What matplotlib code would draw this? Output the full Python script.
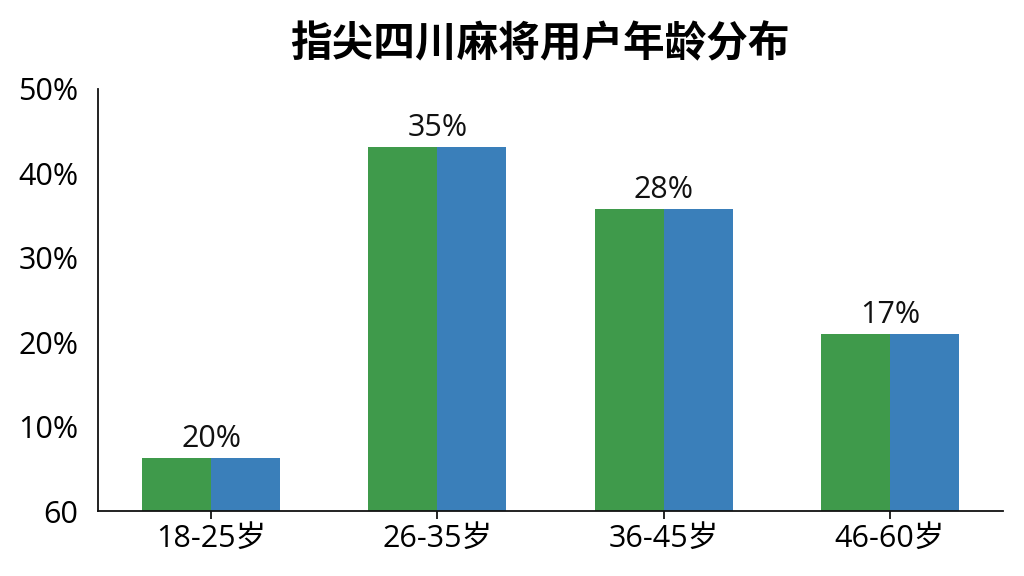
import numpy as np
import matplotlib
matplotlib.use('Agg')
import matplotlib.pyplot as plt

plt.rcParams['font.family'] = ['Open Sans', 'Noto Sans CJK SC', 'DejaVu Sans']

# 数据
categories = ['18-25岁', '26-35岁', '36-45岁', '46-60岁']
green_values = [6.3, 43.1, 35.8, 21.0]
blue_values = [6.3, 43.1, 35.8, 21.0]
bar_labels = ['20%', '35%', '28%', '17%']
y_ticks = [0, 10, 20, 30, 40, 50]
y_tick_labels = ['60', '10%', '20%', '30%', '40%', '50%']

fig = plt.figure(figsize=(10.24, 5.76), dpi=100)
ax = fig.add_axes([0.0957, 0.1128, 0.8838, 0.7327])

x = np.arange(len(categories))
w = 0.305
ax.bar(x - w / 2, green_values, width=w, color='#3f9a4b')
ax.bar(x + w / 2, blue_values, width=w, color='#3a7fba')

for xi, top_g, top_b, lab in zip(x, green_values, blue_values, bar_labels):
    ax.annotate(lab, (xi, max(top_g, top_b)), xytext=(0, 3), textcoords='offset points',
                ha='center', va='bottom', fontsize=22, color='#111111')

ax.set_xlim(-0.5, 3.5)
ax.set_ylim(0, 50)
ax.set_xticks(x)
ax.set_xticklabels(categories, fontsize=22)
ax.set_yticks(y_ticks)
ax.set_yticklabels(y_tick_labels, fontsize=22)
ax.tick_params(axis='y', length=0, pad=14)
ax.tick_params(axis='x', length=6, width=1.2, pad=3)

for s in ['top', 'right']:
    ax.spines[s].set_visible(False)
for s in ['left', 'bottom']:
    ax.spines[s].set_linewidth(1.3)
    ax.spines[s].set_color('#111111')

fig.suptitle('指尖四川麻将用户年龄分布', fontsize=30, fontweight='bold', x=0.527, y=0.96,
             family=['Noto Sans CJK SC', 'DejaVu Sans'])

fig.savefig('out.png', dpi=100)
